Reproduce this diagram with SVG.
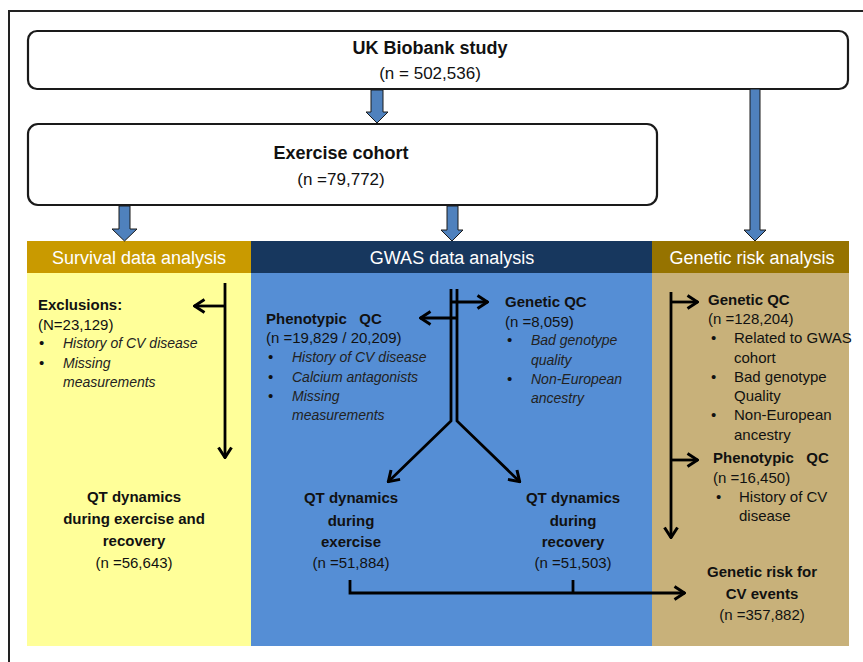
<svg xmlns="http://www.w3.org/2000/svg" width="863" height="662" viewBox="0 0 863 662">
<defs>
<marker id="ah" viewBox="0 0 13 16" refX="12" refY="8" markerWidth="13" markerHeight="16" orient="auto" markerUnits="userSpaceOnUse">
<path d="M1.5,1.5 L11.5,8 L1.5,14.5" fill="none" stroke="#000" stroke-width="3" stroke-linejoin="miter"/>
</marker>
</defs>
<style>
text{font-family:"Liberation Sans",Arial,sans-serif;fill:#111}
.b{font-weight:bold;font-size:15px}
.r{font-size:15px}
.i{font-style:italic;font-size:14px;fill:#222}
.t{font-weight:bold;font-size:18px}
.tr{font-size:17px}
.h{font-size:18px;fill:#fff;text-anchor:middle}
.c{text-anchor:middle}
.box{fill:#fff;stroke:#1a1a1a;stroke-width:2.2}
.ba{fill:#4F81BD;stroke:#1a1a1a;stroke-width:1}
.ln{fill:none;stroke:#000;stroke-width:2.8}
</style>
<rect width="863" height="662" fill="#fff"/>
<path d="M9,670 V11 H870" fill="none" stroke="#222" stroke-width="2"/>

<g id="uk-biobank">
<rect class="box" x="28" y="31" width="820" height="58" rx="9"/>
<text class="t c" x="430" y="54">UK Biobank study</text>
<text class="tr c" x="430" y="79">(n = 502,536)</text>
</g>

<g id="exercise-cohort">
<rect class="box" x="28" y="124" width="629" height="81" rx="10"/>
<text class="t c" x="341" y="159">Exercise cohort</text>
<text class="tr c" x="341" y="185">(n =79,772)</text>
</g>

<g id="survival">
<rect x="27" y="241" width="224" height="405" fill="#FFFF99"/>
<rect x="27" y="241" width="224" height="32" fill="#C99A00"/>
<text class="h" x="139" y="264">Survival data analysis</text>
<text class="b" x="38" y="310">Exclusions:</text>
<text class="r" x="38" y="330">(N=23,129)</text>
<text class="r" x="39" y="348">•</text><text class="i" x="63" y="348">History of CV disease</text>
<text class="r" x="39" y="368">•</text><text class="i" x="63" y="368">Missing</text>
<text class="i" x="63" y="387">measurements</text>
<text class="b c" x="134" y="502">QT dynamics</text>
<text class="b c" x="134" y="524">during exercise and</text>
<text class="b c" x="134" y="546">recovery</text>
<text class="r c" x="134" y="568">(n =56,643)</text>
</g>

<g id="gwas">
<rect x="251" y="241" width="401" height="405" fill="#558ED5"/>
<rect x="251" y="241" width="401" height="32" fill="#17375E"/>
<text class="h" x="452" y="264">GWAS data analysis</text>
<text class="b" x="266" y="324">Phenotypic &#160; QC</text>
<text class="r" x="266" y="343">(n =19,829 / 20,209)</text>
<text class="r" x="268" y="362">•</text><text class="i" x="292" y="362">History of CV disease</text>
<text class="r" x="268" y="382">•</text><text class="i" x="292" y="382">Calcium antagonists</text>
<text class="r" x="268" y="401">•</text><text class="i" x="292" y="401">Missing</text>
<text class="i" x="292" y="420">measurements</text>
<text class="b" x="505" y="307">Genetic QC</text>
<text class="r" x="505" y="327">(n =8,059)</text>
<text class="r" x="507" y="345">•</text><text class="i" x="531" y="345">Bad genotype</text>
<text class="i" x="531" y="365">quality</text>
<text class="r" x="507" y="384">•</text><text class="i" x="531" y="384">Non-European</text>
<text class="i" x="531" y="403">ancestry</text>
<text class="b c" x="351" y="503">QT dynamics</text>
<text class="b c" x="351" y="526">during</text>
<text class="b c" x="351" y="547">exercise</text>
<text class="r c" x="351" y="568">(n =51,884)</text>
<text class="b c" x="573" y="503">QT dynamics</text>
<text class="b c" x="573" y="526">during</text>
<text class="b c" x="573" y="547">recovery</text>
<text class="r c" x="573" y="568">(n =51,503)</text>
</g>

<g id="genetic-risk">
<rect x="652" y="241" width="197" height="405" fill="#C8B17A"/>
<rect x="652" y="241" width="197" height="32" fill="#967300"/>
<text class="h" x="752" y="264">Genetic risk analysis</text>
<text class="b" x="708" y="305">Genetic QC</text>
<text class="r" x="708" y="324">(n =128,204)</text>
<text class="r" x="711" y="343">•</text><text class="r" x="734" y="343">Related to GWAS</text>
<text class="r" x="734" y="363">cohort</text>
<text class="r" x="711" y="382">•</text><text class="r" x="734" y="382">Bad genotype</text>
<text class="r" x="734" y="401">Quality</text>
<text class="r" x="711" y="420">•</text><text class="r" x="734" y="420">Non-European</text>
<text class="r" x="734" y="440">ancestry</text>
<text class="b" x="713" y="463">Phenotypic &#160; QC</text>
<text class="r" x="713" y="483">(n =16,450)</text>
<text class="r" x="716" y="502">•</text><text class="r" x="739" y="502">History of CV</text>
<text class="r" x="739" y="521">disease</text>
<text class="b c" x="762" y="577">Genetic risk for</text>
<text class="b c" x="762" y="599">CV events</text>
<text class="r c" x="762" y="620">(n =357,882)</text>
</g>

<g id="connectors">
<path class="ba" d="M371,90 V112 H366 L377,123 L388,112 H383 V90 Z"/>
<path class="ba" d="M119,206 V229 H112 L124.5,241 L137,229 H130 V206 Z"/>
<path class="ba" d="M447,206 V230 H441 L452,241 L463,230 H458 V206 Z"/>
<path class="ba" d="M750,89 V230 H744 L755,241 L766,230 H760 V89 Z"/>
<line class="ln" x1="225" y1="283" x2="225" y2="458" marker-end="url(#ah)"/>
<line class="ln" x1="225" y1="306" x2="194" y2="306" marker-end="url(#ah)"/>
<path class="ln" d="M451,289 V421 L388,482" marker-end="url(#ah)"/>
<path class="ln" d="M457,289 V421 L520,482" marker-end="url(#ah)"/>
<line class="ln" x1="457" y1="318" x2="420" y2="318" marker-end="url(#ah)"/>
<line class="ln" x1="451" y1="302" x2="488" y2="302" marker-end="url(#ah)"/>
<path class="ln" d="M350,580 V593 H685" marker-end="url(#ah)"/>
<line class="ln" x1="573" y1="580" x2="573" y2="593"/>
<line class="ln" x1="671" y1="292" x2="671" y2="538" marker-end="url(#ah)"/>
<line class="ln" x1="671" y1="302" x2="698" y2="302" marker-end="url(#ah)"/>
<line class="ln" x1="671" y1="460" x2="698" y2="460" marker-end="url(#ah)"/>
</g>
</svg>
